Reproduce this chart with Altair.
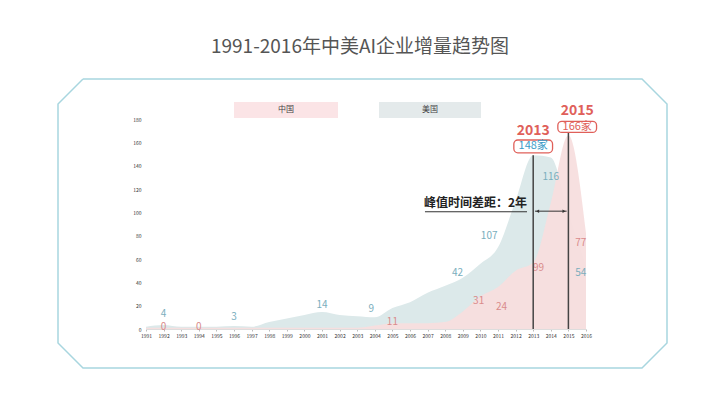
import altair as alt
import pandas as pd

# ---- data ----
years = list(range(1991, 2017))
usa = [2, 3.5, 2, 2, 2, 2.5, 2, 6, 9, 12, 14.5, 12, 11, 10, 18, 23, 31, 37, 44, 56, 70, 110, 149, 147, 100, 54]
china = [1, 1, 1, 1, 1, 1, 1, 1, 1, 1, 1, 1, 1, 3, 5, 5, 5, 6, 15, 28, 36, 50, 57, 108, 166, 82]

us_label_text = ["4", "3", "14", "9", "42", "107", "116", "54"]
us_label_x = [1992, 1996, 2001, 2003.8, 2008.7, 2010.5, 2014, 2015.7]
us_label_y = [12.5, 10, 20.5, 17, 48, 80, 130, 48]

cn_label_text = ["0", "0", "11", "31", "24", "99", "77"]
cn_label_x = [1992, 1994, 2005, 2009.9, 2011.2, 2013.3, 2015.7]
cn_label_y = [1.8, 1.8, 6, 24, 19, 52, 74]

y_ticks = list(range(0, 181, 20))
peak_years = [2013, 2015]
peak_values = [148, 166]
legend_names = ["中国", "美国"]
title_text = "1991-2016年中美AI企业增量趋势图"
gap_text = "峰值时间差距：2年"

W, H = 440, 210
FONT = "Noto Sans CJK SC"
BLUE_FILL = "#dce9ea"
PINK_FILL = "#f7dede"
BLUE_TXT = "#7aaebd"
PINK_TXT = "#d98b8b"
RED = "#e0605a"

xs = alt.Scale(domain=[1991, 2016], nice=False, zero=False)
ys = alt.Scale(domain=[0, 180], nice=False)

area_df = pd.DataFrame({"year": years, "美国": usa, "中国": china})
base = alt.Chart(area_df)

us_area = base.mark_area(color=BLUE_FILL, interpolate="monotone").encode(
    x=alt.X("year:Q", scale=xs,
            axis=alt.Axis(values=years, tickCount=40, format="d", title=None, labelOverlap=False,
                          labelFlush=False, tickSize=2, labelPadding=2)),
    y=alt.Y("美国:Q", scale=ys,
            axis=alt.Axis(values=y_ticks, tickCount=20, title=None, labelOverlap=False,
                          ticks=False, domain=False, labelPadding=5)),
)
cn_area = base.mark_area(color=PINK_FILL, interpolate="monotone", opacity=0.95).encode(
    x=alt.X("year:Q", scale=xs), y=alt.Y("中国:Q", scale=ys)
)


def X(f):
    return alt.X(f, scale=xs)


def Y(f):
    return alt.Y(f, scale=ys)


us_lab = alt.Chart(pd.DataFrame({"t": us_label_text, "x": us_label_x, "y": us_label_y})).mark_text(
    color=BLUE_TXT, fontSize=10, font=FONT, baseline="middle"
).encode(x=X("x:Q"), y=Y("y:Q"), text="t:N")

cn_lab = alt.Chart(pd.DataFrame({"t": cn_label_text, "x": cn_label_x, "y": cn_label_y})).mark_text(
    color=PINK_TXT, fontSize=10, font=FONT, baseline="middle"
).encode(x=X("x:Q"), y=Y("y:Q"), text="t:N")

# peak vertical lines
peak_df = pd.DataFrame({"x": peak_years, "top": [149, 168], "zero": [0, 0]})
peak_rules = alt.Chart(peak_df).mark_rule(color="#444", strokeWidth=1.5).encode(
    x=X("x:Q"), y=Y("top:Q"), y2="zero:Q"
)

# peak annotation boxes
box_df = pd.DataFrame({
    "x1": [2011.9, 2014.4], "x2": [2014.1, 2016.6],
    "y1": [151, 168.5], "y2": [162, 178],
    "cx": [2013, 2015.5], "cy": [156.5, 173.2],
    "val": [f"{peak_values[0]}家", f"{peak_values[1]}家"],
    "yr": [str(peak_years[0]), str(peak_years[1])],
    "yy": [166.5, 183.5],
    "col": ["#3a9bc8", RED],
})
boxes = alt.Chart(box_df).mark_rect(fill="white", stroke=RED, strokeWidth=1.3, cornerRadius=4).encode(
    x=X("x1:Q"), x2="x2:Q", y=Y("y1:Q"), y2="y2:Q"
)
box_txt = alt.Chart(box_df).mark_text(fontSize=11, font=FONT, baseline="middle").encode(
    x=X("cx:Q"), y=Y("cy:Q"), text="val:N",
    color=alt.Color("col:N", scale=None)
)
yr_txt = alt.Chart(box_df).mark_text(fontSize=14, font=FONT, fontWeight="bold", color=RED,
                                     baseline="alphabetic").encode(
    x=X("cx:Q"), y=Y("yy:Q"), text="yr:N"
)

# gap arrow and text
arrow_df = pd.DataFrame({"x": [2013.1], "x2": [2014.9], "y": [101]})
arrow = alt.Chart(arrow_df).mark_rule(color="#333", strokeWidth=1).encode(
    x=X("x:Q"), x2="x2:Q", y=Y("y:Q")
)
heads_df = pd.DataFrame({"x": [2013.25, 2014.75], "y": [101, 101], "s": ["triangle-left", "triangle-right"]})
heads = alt.Chart(heads_df).mark_point(filled=True, color="#333", size=12, opacity=1).encode(
    x=X("x:Q"), y=Y("y:Q"), shape=alt.Shape("s:N", scale=None)
)
gap_df = pd.DataFrame({"t": [gap_text], "x": [2012.65], "y": [108], "u1": [2006.85], "uy": [100.5]})
gap_txt = alt.Chart(gap_df).mark_text(fontSize=12, font=FONT, fontWeight="bold", color="#222",
                                      align="right", baseline="middle").encode(
    x=X("x:Q"), y=Y("y:Q"), text="t:N"
)
underline = alt.Chart(gap_df).mark_rule(color="#333", strokeWidth=1.2).encode(
    x=X("u1:Q"), x2="x:Q", y=Y("uy:Q")
)

# legend boxes (decoration, pixel positions)
leg_df = pd.DataFrame({"name": legend_names, "x1": [88, 233], "x2": [192, 335],
                       "fill": ["#fbe4e6", "#e4eaeb"], "cx": [140, 284]})
leg_rect = alt.Chart(leg_df).mark_rect().encode(
    x=alt.X("x1:Q", scale=None), x2="x2:Q",
    y=alt.value(-17), y2=alt.value(-1), fill=alt.Fill("fill:N", scale=None)
)
leg_txt = alt.Chart(leg_df).mark_text(fontSize=8, font=FONT, color="#444", baseline="middle").encode(
    x=alt.X("cx:Q", scale=None), y=alt.value(-9), text="name:N"
)

# octagon frame (decoration, pixels relative to plot origin)
fx = [-63, 496, 521, 521, 496, -63, -88, -88, -63]
fy = [-40, -40, -15, 224, 249, 249, 224, -15, -40]
frame_df = pd.DataFrame({"fx": fx, "fy": fy, "i": list(range(len(fx)))})
frame = alt.Chart(frame_df).mark_line(color="#a8d6df", strokeWidth=1.5).encode(
    x=alt.X("fx:Q", scale=None), y=alt.Y("fy:Q", scale=None), order="i:Q"
)

title = alt.Chart(pd.DataFrame({"t": [title_text]})).mark_text(
    fontSize=19, font=FONT, color="#555", baseline="middle"
).encode(x=alt.value(214), y=alt.value(-72), text="t:N")

chart = alt.layer(
    us_area, cn_area, frame, title, leg_rect, leg_txt,
    us_lab, cn_lab,
    peak_rules, boxes, box_txt, yr_txt,
    underline, gap_txt, arrow, heads,
).properties(
    width=W, height=H,
    autosize=alt.AutoSizeParams(type="none"),
    padding={"left": 138, "top": 111, "right": 120, "bottom": 60},
).configure(background="white").configure_view(stroke=None).configure_axis(
    labelOverlap=False, labelFontSize=5, labelColor="#333", labelFont=FONT,
    grid=False, tickColor="#bbb", domainColor="#ddd", title=None,
)

chart.save("out.html", embed_options={"renderer": "svg", "actions": False})
